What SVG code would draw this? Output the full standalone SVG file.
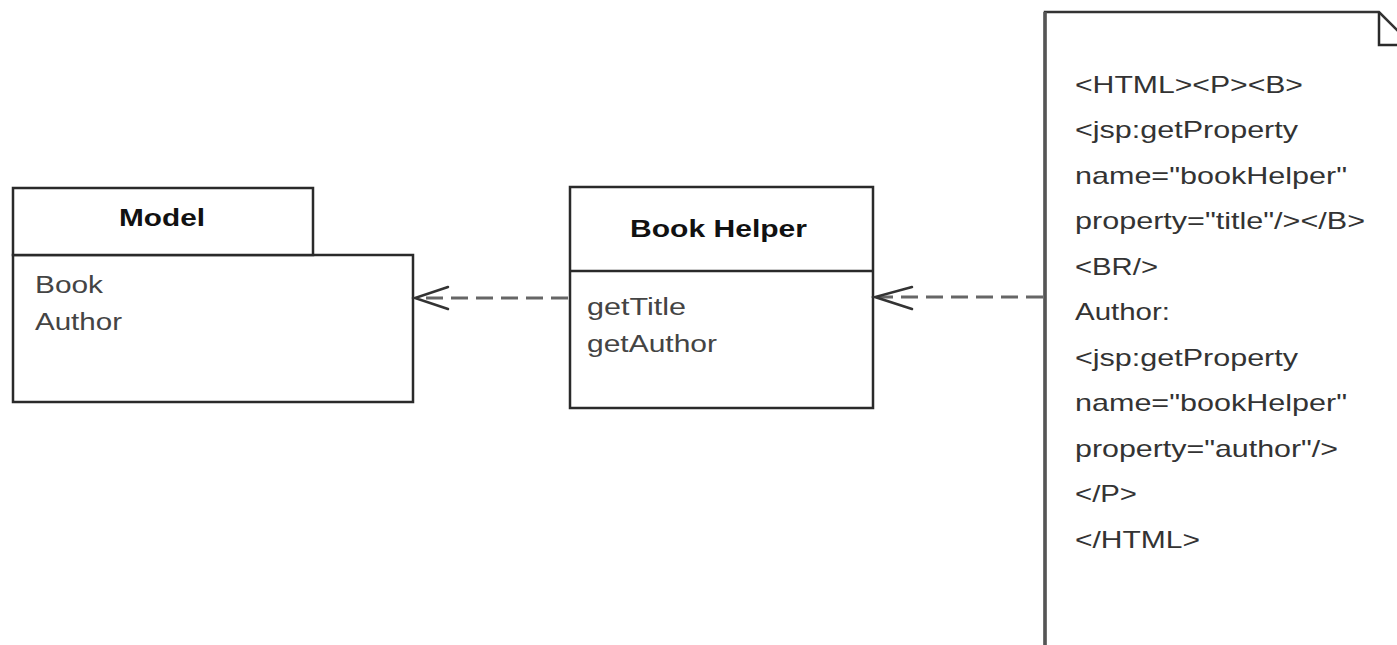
<svg xmlns="http://www.w3.org/2000/svg" width="1397" height="645" viewBox="0 0 1397 645">
<defs>
<style>
.box{fill:#fff;stroke:#2a2a2a;stroke-width:2.5}
.line{stroke:#2a2a2a;stroke-width:2.5;fill:none}
.title{font-family:"Liberation Sans",Arial,sans-serif;font-weight:bold;font-size:24px;fill:#111}
.body{font-family:"Liberation Sans",Arial,sans-serif;font-size:23px;fill:#444}
.note{font-family:"Liberation Sans",Arial,sans-serif;font-size:24px;fill:#333}
.dash{stroke:#666;stroke-width:3;stroke-dasharray:17 8;fill:none}
.head{stroke:#333;stroke-width:2.5;fill:none;stroke-linecap:round}
</style>
</defs>
<rect width="1397" height="645" fill="#fff"/>
<g id="model">
<rect class="box" x="13" y="255" width="400" height="147"/>
<rect class="box" x="13" y="188" width="300" height="67"/>
<text class="title" x="119" y="226" textLength="86" lengthAdjust="spacingAndGlyphs">Model</text>
<text class="body" x="35" y="293" textLength="68" lengthAdjust="spacingAndGlyphs">Book</text>
<text class="body" x="35" y="330" textLength="87" lengthAdjust="spacingAndGlyphs">Author</text>
</g>
<g id="bookhelper">
<rect class="box" x="570" y="187" width="303" height="221"/>
<line class="line" x1="570" y1="271" x2="873" y2="271"/>
<text class="title" x="630" y="237" textLength="177" lengthAdjust="spacingAndGlyphs">Book Helper</text>
<text class="body" x="587" y="315" textLength="99" lengthAdjust="spacingAndGlyphs">getTitle</text>
<text class="body" x="587" y="352" textLength="130" lengthAdjust="spacingAndGlyphs">getAuthor</text>
</g>
<g id="jsp-note">
<path d="M1045,660 L1045,12 L1379,12 L1411,44 L1411,660 Z" fill="#fff" stroke="#333" stroke-width="2.5"/>
<line x1="1045" y1="12" x2="1045" y2="660" stroke="#555" stroke-width="3.5"/>
<path class="line" d="M1379,12 L1379,45 L1411,45"/>
<text class="note" x="1075" y="92.5" textLength="228" lengthAdjust="spacingAndGlyphs">&lt;HTML&gt;&lt;P&gt;&lt;B&gt;</text>
<text class="note" x="1075" y="138" textLength="223" lengthAdjust="spacingAndGlyphs">&lt;jsp:getProperty</text>
<text class="note" x="1075" y="183.5" textLength="272" lengthAdjust="spacingAndGlyphs">name="bookHelper"</text>
<text class="note" x="1075" y="229" textLength="290" lengthAdjust="spacingAndGlyphs">property="title"/&gt;&lt;/B&gt;</text>
<text class="note" x="1075" y="274.5" textLength="83" lengthAdjust="spacingAndGlyphs">&lt;BR/&gt;</text>
<text class="note" x="1075" y="320" textLength="95" lengthAdjust="spacingAndGlyphs">Author:</text>
<text class="note" x="1075" y="365.5" textLength="223" lengthAdjust="spacingAndGlyphs">&lt;jsp:getProperty</text>
<text class="note" x="1075" y="411" textLength="272" lengthAdjust="spacingAndGlyphs">name="bookHelper"</text>
<text class="note" x="1075" y="456.5" textLength="263" lengthAdjust="spacingAndGlyphs">property="author"/&gt;</text>
<text class="note" x="1075" y="502" textLength="62" lengthAdjust="spacingAndGlyphs">&lt;/P&gt;</text>
<text class="note" x="1075" y="547.5" textLength="125" lengthAdjust="spacingAndGlyphs">&lt;/HTML&gt;</text>
</g>
<g id="connectors">
<line class="dash" x1="568" y1="298" x2="418" y2="298"/>
<path class="head" d="M448,287 L415,298 L448,309"/>
<line class="dash" x1="1043" y1="297" x2="878" y2="297"/>
<path class="head" d="M912,287 L875,297 L912,309"/>
</g>
</svg>
